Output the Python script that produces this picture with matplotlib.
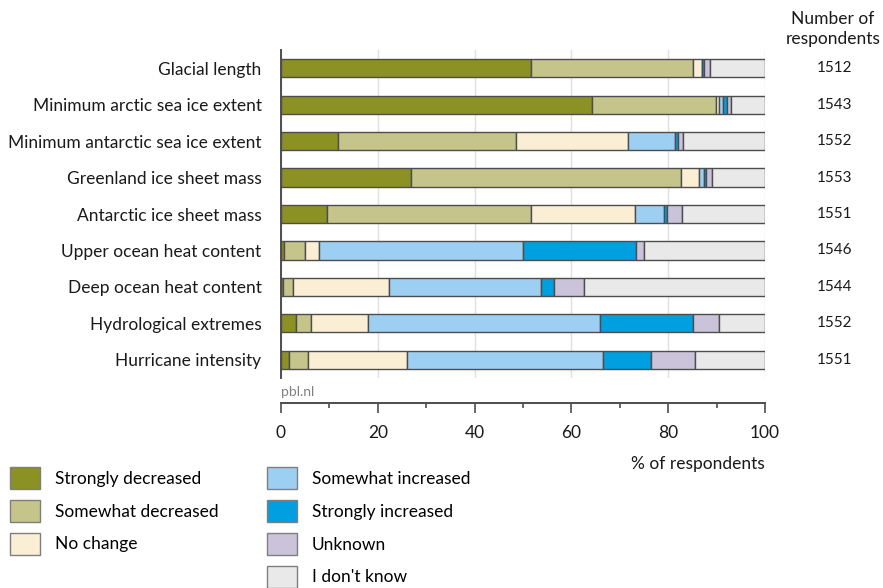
import numpy as np
import matplotlib
matplotlib.use("Agg")
import matplotlib.pyplot as plt
from matplotlib.patches import Patch
from matplotlib.ticker import MultipleLocator

plt.rcParams['font.family'] = ['Lato', 'DejaVu Sans']

categories = ["Glacial length", "Minimum arctic sea ice extent",
              "Minimum antarctic sea ice extent", "Greenland ice sheet mass",
              "Antarctic ice sheet mass", "Upper ocean heat content",
              "Deep ocean heat content", "Hydrological extremes",
              "Hurricane intensity"]
respondents = [1512, 1543, 1552, 1553, 1551, 1546, 1544, 1552, 1551]

answers = ["Strongly decreased", "Somewhat decreased", "No change",
           "Somewhat increased", "Strongly increased", "Unknown", "I don't know"]

strongly_decreased = [51.6, 64.3, 11.7, 26.8, 9.6, 0.7, 0.5, 3.0, 1.7]
somewhat_decreased = [33.6, 25.5, 36.8, 55.8, 42.1, 4.2, 2.0, 3.2, 3.8]
no_change = [1.7, 0.7, 23.1, 3.8, 21.4, 2.9, 19.9, 11.7, 20.5]
somewhat_increased = [0.1, 0.9, 9.8, 1.0, 6.1, 42.3, 31.4, 48.1, 40.6]
strongly_increased = [0.3, 0.8, 0.6, 0.4, 0.5, 23.3, 2.7, 19.1, 9.9]
unknown = [1.4, 0.7, 1.1, 1.2, 3.2, 1.5, 6.0, 5.3, 9.0]
dont_know = [11.3, 7.1, 16.9, 11.0, 17.1, 25.1, 37.5, 9.6, 14.5]

series = [strongly_decreased, somewhat_decreased, no_change, somewhat_increased,
          strongly_increased, unknown, dont_know]
colors = ["#8b9123", "#c4c48b", "#faeed5", "#9dcff3", "#009fe0", "#cbc3da", "#e9e9e9"]
edge = "#4d4d4d"
fs = 12.5

fig = plt.figure(figsize=(8.83, 5.88), dpi=100)
ax = fig.add_axes([281 / 883, 1 - 378 / 588, 484 / 883, 328 / 588])

y = np.arange(len(categories))
left = np.zeros(len(categories))
for vals, col in zip(series, colors):
    vals = np.array(vals)
    ax.barh(y, vals, left=left, height=0.5, color=col, edgecolor=edge,
            linewidth=1.0, zorder=3)
    left += vals

ax.set_xlim(0, 100)
ax.set_ylim(len(categories) - 0.5, -0.5)
ax.set_yticks(y)
ax.set_yticklabels(categories, fontsize=fs, color="#1a1a1a")
ax.tick_params(axis='y', length=0, pad=14)

ax.xaxis.set_major_locator(MultipleLocator(20))
ax.xaxis.set_minor_locator(MultipleLocator(10))
ax.tick_params(axis='x', which='major', length=7, width=1.2, color="#4d4d4d",
               labelsize=fs, pad=9, labelcolor="#1a1a1a")
ax.tick_params(axis='x', which='minor', length=3.5, width=1.2, color="#4d4d4d")
ax.grid(axis='x', color="#e0e0e0", linewidth=1, zorder=0)

for s in ['top', 'right']:
    ax.spines[s].set_visible(False)
ax.spines['left'].set_color("#4d4d4d")
ax.spines['left'].set_linewidth(1.4)
ax.spines['bottom'].set_position(('outward', 18))
ax.spines['bottom'].set_color("#4d4d4d")
ax.spines['bottom'].set_linewidth(1.4)

ax.set_xlabel("% of respondents", loc='right', fontsize=fs, color="#1a1a1a",
              labelpad=11)

for yi, n in zip(y, respondents):
    ax.text((835 - 281) / 484, yi, str(n), transform=ax.get_yaxis_transform(),
            ha='center', va='center', fontsize=11, color="#1a1a1a")

fig.text(833 / 883, 1 - 29 / 588, "Number of\nrespondents", ha='center',
         va='center', fontsize=fs, color="#1a1a1a", linespacing=1.25)
fig.text(281 / 883, 1 - 392 / 588, "pbl.nl", ha='left', va='center',
         fontsize=10, color="#808080")

handles = [Patch(facecolor=c, edgecolor="#7f7f7f", linewidth=1.0) for c in colors]
leg_kw = dict(frameon=False, fontsize=fs, handlelength=1.73, handleheight=1.57,
              handletextpad=0.86, labelspacing=0.63, borderpad=0, borderaxespad=0,
              loc='upper left')
leg1 = fig.legend(handles[:3], answers[:3],
                  bbox_to_anchor=(10 / 883, 1 - 467 / 588), **leg_kw)
leg2 = fig.legend(handles[3:], answers[3:],
                  bbox_to_anchor=(267 / 883, 1 - 467 / 588), **leg_kw)

fig.savefig("out.png", dpi=100)
